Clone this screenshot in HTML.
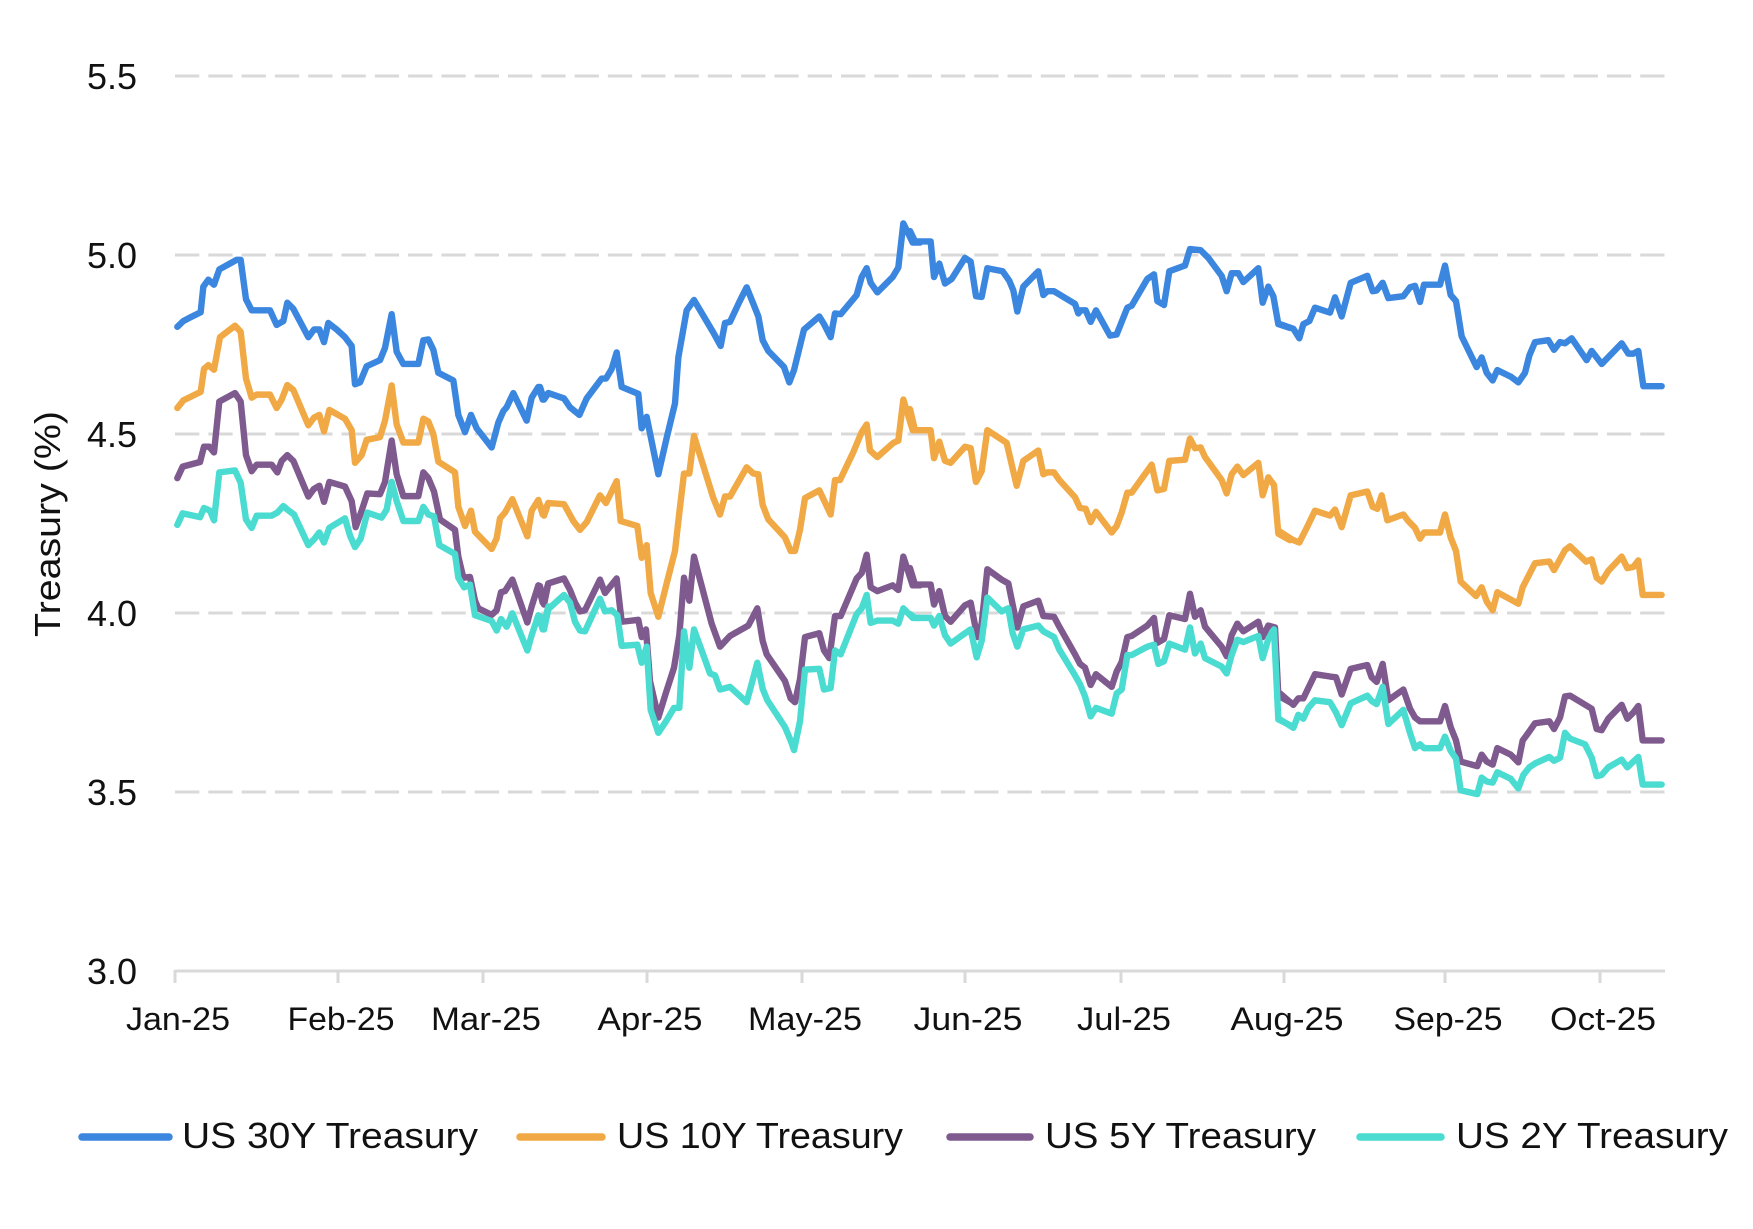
<!DOCTYPE html>
<html>
<head>
<meta charset="utf-8">
<style>
html,body{margin:0;padding:0;background:#fff;}
svg{display:block;}
text{font-family:"Liberation Sans",Arial,sans-serif;fill:#111;}
</style>
</head>
<body>
<svg width="1753" height="1229" viewBox="0 0 1753 1229" xmlns="http://www.w3.org/2000/svg">
<rect width="1753" height="1229" fill="#fff"/>
<!-- gridlines -->
<g stroke="#d9d9d9" stroke-width="3" stroke-dasharray="24.3 9">
<line x1="175" y1="76" x2="1665" y2="76"/>
<line x1="175" y1="255" x2="1665" y2="255"/>
<line x1="175" y1="434" x2="1665" y2="434"/>
<line x1="175" y1="613" x2="1665" y2="613"/>
<line x1="175" y1="792" x2="1665" y2="792"/>
</g>
<!-- x axis -->
<g stroke="#d9d9d9" stroke-width="3">
<line x1="175" y1="971" x2="1665" y2="971"/>
<line x1="175" y1="970" x2="175" y2="983"/>
<line x1="338" y1="970" x2="338" y2="983"/>
<line x1="483" y1="970" x2="483" y2="983"/>
<line x1="647" y1="970" x2="647" y2="983"/>
<line x1="802" y1="970" x2="802" y2="983"/>
<line x1="965" y1="970" x2="965" y2="983"/>
<line x1="1121" y1="970" x2="1121" y2="983"/>
<line x1="1284" y1="970" x2="1284" y2="983"/>
<line x1="1445" y1="970" x2="1445" y2="983"/>
<line x1="1600" y1="970" x2="1600" y2="983"/>
</g>
<!-- y labels -->
<g font-size="36" text-anchor="end">
<text x="137" y="89">5.5</text>
<text x="137" y="268">5.0</text>
<text x="137" y="447">4.5</text>
<text x="137" y="626">4.0</text>
<text x="137" y="805">3.5</text>
<text x="137" y="984">3.0</text>
</g>
<!-- x labels -->
<g font-size="32" text-anchor="middle">
<text x="178" y="1030" textLength="104" lengthAdjust="spacingAndGlyphs">Jan-25</text>
<text x="341" y="1030" textLength="107" lengthAdjust="spacingAndGlyphs">Feb-25</text>
<text x="486" y="1030" textLength="110" lengthAdjust="spacingAndGlyphs">Mar-25</text>
<text x="650" y="1030" textLength="105" lengthAdjust="spacingAndGlyphs">Apr-25</text>
<text x="805" y="1030" textLength="114" lengthAdjust="spacingAndGlyphs">May-25</text>
<text x="968" y="1030" textLength="109" lengthAdjust="spacingAndGlyphs">Jun-25</text>
<text x="1124" y="1030" textLength="94" lengthAdjust="spacingAndGlyphs">Jul-25</text>
<text x="1287" y="1030" textLength="113" lengthAdjust="spacingAndGlyphs">Aug-25</text>
<text x="1448" y="1030" textLength="109" lengthAdjust="spacingAndGlyphs">Sep-25</text>
<text x="1603" y="1030" textLength="106" lengthAdjust="spacingAndGlyphs">Oct-25</text>
</g>
<!-- y title -->
<text transform="translate(60,524) rotate(-90)" font-size="36" text-anchor="middle" textLength="226" lengthAdjust="spacingAndGlyphs">Treasury  (%)</text>

<g fill="none" stroke-linejoin="round" stroke-linecap="round">
<!-- 30Y blue -->
<g stroke="#3b86df">
<polyline vector-effect="non-scaling-stroke" stroke-width="6.4" transform="translate(170 210) scale(0.33333 0.38302)" points="22,305 40,290 55,283 92,267 100,200 115,182 132,195 148,155 175,142 200,130 212,130 228,233 245,262 300,262 320,300 340,290 352,242 370,258 415,332 432,312 448,312 462,345 475,295 500,312 525,332 545,355 555,455 570,450 590,408 630,392 645,360 665,272 680,370 700,402 745,402 760,340 775,338 790,365 805,425 850,445 865,535 885,580 903,535 920,570 965,620 985,555 1000,525 1010,515 1030,478 1070,550 1085,490 1105,462 1118,495 1135,478"/>
<polyline vector-effect="non-scaling-stroke" stroke-width="6.4" transform="translate(540 210) scale(0.33333 0.38302)" points="0,462 12,495 25,478 72,492 90,515 118,535 140,492 185,440 198,440 215,415 230,372 245,462 295,480 305,570 320,540 355,690 380,595 405,505 415,385 440,262 462,235 520,320 542,355 555,295 570,292 598,240 620,202 640,245 655,278 668,340 685,368 732,410 748,450 762,418 792,312 838,278 852,298 872,332 885,270 902,272 950,222 965,175 980,152 992,190 1012,215 1058,175 1075,150 1090,35 1118,85 1140,85"/>
<polyline vector-effect="non-scaling-stroke" stroke-width="6.4" transform="translate(910 210) scale(0.33333 0.38302)" points="0,55 15,82 62,82 72,175 88,140 105,192 125,180 165,125 182,135 198,225 215,227 232,152 278,160 298,185 310,210 322,265 340,200 385,160 400,222 412,212 432,212 495,245 505,270 512,262 527,262 542,292 558,262 600,328 620,325 652,255 665,250 712,180 732,168 742,238 762,248 778,160 825,145 840,102 872,105 895,125 935,172 950,212 965,165 985,165 1000,188 1045,152 1058,242 1075,200 1090,225 1105,298 1140,308"/>
<polyline vector-effect="non-scaling-stroke" stroke-width="6.4" transform="translate(1280 210) scale(0.33333 0.38302)" points="0,298 40,310 58,335 70,298 88,290 105,255 150,268 165,228 185,278 212,190 262,172 278,212 290,210 308,190 325,230 370,225 390,202 405,198 420,240 432,195 480,195 495,145 512,222 528,238 545,330 590,410 605,385 620,425 638,445 652,418 692,435 715,450 735,425 748,380 765,345 805,340 822,365 840,345 855,348 875,335 920,392 935,368 965,402 1025,348 1045,375 1060,375 1075,368 1090,460 1145,460"/>
</g>
<!-- 10Y orange -->
<g stroke="#f0a945">
<polyline vector-effect="non-scaling-stroke" stroke-width="6.4" transform="translate(170 210) scale(0.33333 0.38302)" points="22,517 40,497 92,475 102,415 115,405 132,417 150,332 195,302 212,318 228,440 245,490 260,482 300,482 320,517 335,495 352,457 370,470 415,562 432,542 448,535 462,578 478,522 525,545 545,575 555,660 575,640 590,600 630,593 645,550 665,458 680,560 700,607 745,607 760,545 775,552 790,585 805,657 855,685 865,775 885,825 903,785 915,840 965,885 980,857 990,805 1005,790 1027,755 1072,852 1085,785 1105,757 1118,795 1135,765"/>
<polyline vector-effect="non-scaling-stroke" stroke-width="6.4" transform="translate(540 210) scale(0.33333 0.38302)" points="0,770 12,798 25,765 72,768 100,812 120,835 140,815 180,745 198,765 230,708 242,812 292,825 305,908 320,875 332,1000 355,1062 380,975 405,890 418,790 432,688 448,688 462,590 520,752 540,795 555,748 570,748 620,672 640,688 655,690 668,770 685,808 735,855 752,890 765,890 780,835 795,752 838,732 872,795 885,705 900,705 940,632 965,580 980,560 990,628 1012,645 1060,608 1075,602 1090,495 1118,575 1140,575"/>
<polyline vector-effect="non-scaling-stroke" stroke-width="6.4" transform="translate(910 210) scale(0.33333 0.38302)" points="0,520 15,575 62,575 72,648 88,605 105,655 122,660 165,618 182,622 198,710 215,682 232,575 290,608 320,720 340,655 385,628 400,690 412,685 432,685 448,705 495,750 510,778 527,780 542,815 558,788 605,842 620,825 635,790 652,738 665,738 725,665 742,732 762,728 778,655 825,652 840,597 855,622 872,620 885,645 935,705 950,740 965,690 982,670 1000,692 1045,660 1058,745 1075,698 1092,718 1105,845 1140,862"/>
<polyline vector-effect="non-scaling-stroke" stroke-width="6.4" transform="translate(1280 210) scale(0.33333 0.38302)" points="0,840 40,862 58,868 80,830 105,785 150,798 165,782 185,828 212,745 262,735 278,775 292,780 305,745 322,810 370,795 385,812 405,830 420,858 432,842 480,842 495,795 512,855 528,890 542,970 588,1008 605,985 620,1022 638,1045 652,998 715,1028 728,985 765,922 808,918 822,940 840,912 855,888 870,878 918,918 935,912 950,960 965,970 985,942 1025,905 1042,935 1060,932 1075,915 1088,1005 1145,1005"/>
</g>
<!-- 5Y purple -->
<g stroke="#7e5a8e">
<polyline vector-effect="non-scaling-stroke" stroke-width="6.4" transform="translate(170 210) scale(0.33333 0.38302)" points="22,700 38,670 90,658 102,618 118,618 132,633 148,500 195,478 212,500 228,640 245,682 260,665 305,665 322,685 335,655 352,640 370,655 415,748 432,728 448,720 462,762 478,710 525,722 545,760 557,828 575,785 592,740 630,742 645,710 665,602 680,690 700,747 745,747 760,685 775,700 792,735 810,808 855,835 865,905 880,960 900,958 915,1020 925,1040 965,1057 980,1045 993,998 1005,995 1027,965 1072,1077 1085,1035 1105,980 1118,1025 1135,975"/>
<polyline vector-effect="non-scaling-stroke" stroke-width="6.4" transform="translate(540 210) scale(0.33333 0.38302)" points="0,982 12,1030 25,975 72,962 90,992 105,1025 120,1048 135,1045 180,965 195,1000 230,962 245,1075 295,1070 305,1115 318,1095 330,1230 355,1325 378,1260 402,1195 418,1110 432,960 448,1020 462,905 480,965 515,1080 540,1140 570,1112 625,1085 652,1040 668,1125 680,1160 735,1230 752,1275 765,1285 780,1225 795,1115 838,1105 852,1150 868,1170 885,1060 902,1060 950,962 965,948 980,900 992,985 1012,995 1058,980 1075,992 1090,905 1118,980 1140,980"/>
<polyline vector-effect="non-scaling-stroke" stroke-width="6.4" transform="translate(910 210) scale(0.33333 0.38302)" points="0,935 15,978 62,978 72,1030 88,995 105,1060 122,1075 165,1032 182,1025 202,1115 215,1080 232,938 275,965 295,975 322,1090 340,1035 385,1020 400,1060 432,1062 448,1088 495,1160 510,1185 525,1195 542,1240 558,1212 605,1245 620,1205 635,1180 652,1115 665,1112 712,1085 732,1065 742,1130 762,1120 778,1058 825,1068 840,1002 855,1062 872,1045 885,1088 935,1140 950,1165 965,1110 982,1080 1000,1100 1045,1075 1058,1115 1075,1085 1095,1090 1105,1268 1140,1285"/>
<polyline vector-effect="non-scaling-stroke" stroke-width="6.4" transform="translate(1280 210) scale(0.33333 0.38302)" points="0,1262 40,1292 55,1275 70,1275 85,1248 105,1212 150,1218 168,1220 185,1265 212,1198 262,1188 275,1220 290,1232 308,1185 325,1280 370,1252 390,1302 405,1325 420,1335 480,1335 495,1295 512,1350 528,1385 542,1440 592,1452 605,1422 620,1440 638,1448 652,1405 692,1422 715,1442 728,1385 745,1365 765,1340 808,1335 822,1355 840,1325 855,1270 870,1268 935,1302 950,1355 965,1358 985,1328 1025,1292 1042,1328 1060,1312 1075,1295 1088,1385 1145,1385"/>
</g>
<!-- 2Y teal -->
<g stroke="#4adbd1">
<polyline vector-effect="non-scaling-stroke" stroke-width="6.4" transform="translate(170 210) scale(0.33333 0.38302)" points="22,822 38,792 90,802 102,778 120,785 132,810 148,685 195,680 212,712 228,808 245,830 260,798 305,798 322,790 340,773 352,782 372,795 415,875 432,860 448,842 462,868 478,830 525,805 540,850 555,880 572,858 592,790 635,803 650,782 665,710 680,760 700,812 745,812 760,775 775,795 792,800 808,875 855,898 865,960 882,985 900,978 915,1058 965,1073 980,1098 993,1068 1010,1088 1027,1053 1072,1150 1085,1110 1105,1058 1118,1095 1135,1035"/>
<polyline vector-effect="non-scaling-stroke" stroke-width="6.4" transform="translate(540 210) scale(0.33333 0.38302)" points="0,1060 12,1095 25,1042 72,1005 90,1025 105,1075 120,1098 135,1100 180,1015 195,1048 215,1045 232,1058 245,1138 292,1135 305,1182 320,1140 332,1305 355,1365 378,1335 402,1300 418,1300 432,1100 448,1195 462,1095 510,1210 525,1215 540,1252 570,1245 620,1285 652,1182 668,1250 682,1280 735,1350 752,1385 762,1410 780,1335 795,1200 838,1198 852,1252 872,1248 885,1150 902,1160 950,1055 965,1040 980,1005 992,1078 1012,1072 1058,1072 1075,1080 1090,1040 1118,1065 1140,1065"/>
<polyline vector-effect="non-scaling-stroke" stroke-width="6.4" transform="translate(910 210) scale(0.33333 0.38302)" points="0,1055 15,1065 62,1065 72,1085 88,1060 105,1110 122,1132 165,1105 182,1095 200,1168 215,1125 232,1012 275,1048 295,1040 308,1105 322,1140 340,1095 385,1085 400,1100 432,1115 448,1148 495,1215 510,1238 525,1270 542,1322 558,1300 605,1315 620,1262 635,1252 652,1162 665,1162 712,1140 732,1135 745,1185 762,1178 778,1132 825,1148 840,1090 855,1158 872,1132 885,1170 935,1192 950,1210 965,1162 982,1122 1000,1128 1045,1112 1058,1170 1075,1120 1092,1095 1105,1330 1140,1345"/>
<polyline vector-effect="non-scaling-stroke" stroke-width="6.4" transform="translate(1280 210) scale(0.33333 0.38302)" points="0,1330 40,1352 55,1318 70,1328 85,1300 105,1280 150,1285 168,1312 185,1345 212,1288 262,1268 275,1282 290,1290 308,1245 325,1342 370,1305 390,1365 405,1405 420,1395 432,1405 480,1405 495,1375 512,1412 528,1432 542,1515 592,1525 605,1482 620,1492 638,1495 652,1468 692,1485 715,1510 730,1475 748,1455 765,1445 808,1428 822,1438 840,1430 855,1365 870,1380 915,1395 935,1430 950,1478 965,1475 985,1455 1025,1435 1042,1455 1060,1440 1075,1428 1088,1500 1145,1500"/>
</g>
</g>

<!-- legend -->
<g stroke-width="7.5" stroke-linecap="round">
<line x1="82" y1="1137" x2="169" y2="1137" stroke="#3b86df"/>
<line x1="520" y1="1137" x2="602" y2="1137" stroke="#f0a945"/>
<line x1="950" y1="1137" x2="1030" y2="1137" stroke="#7e5a8e"/>
<line x1="1360" y1="1137" x2="1441" y2="1137" stroke="#4adbd1"/>
</g>
<g font-size="36">
<text x="182" y="1148" textLength="296" lengthAdjust="spacingAndGlyphs">US 30Y Treasury</text>
<text x="617" y="1148" textLength="286" lengthAdjust="spacingAndGlyphs">US 10Y Treasury</text>
<text x="1045" y="1148" textLength="271" lengthAdjust="spacingAndGlyphs">US 5Y Treasury</text>
<text x="1456" y="1148" textLength="272" lengthAdjust="spacingAndGlyphs">US 2Y Treasury</text>
</g>
</svg>
</body>
</html>
